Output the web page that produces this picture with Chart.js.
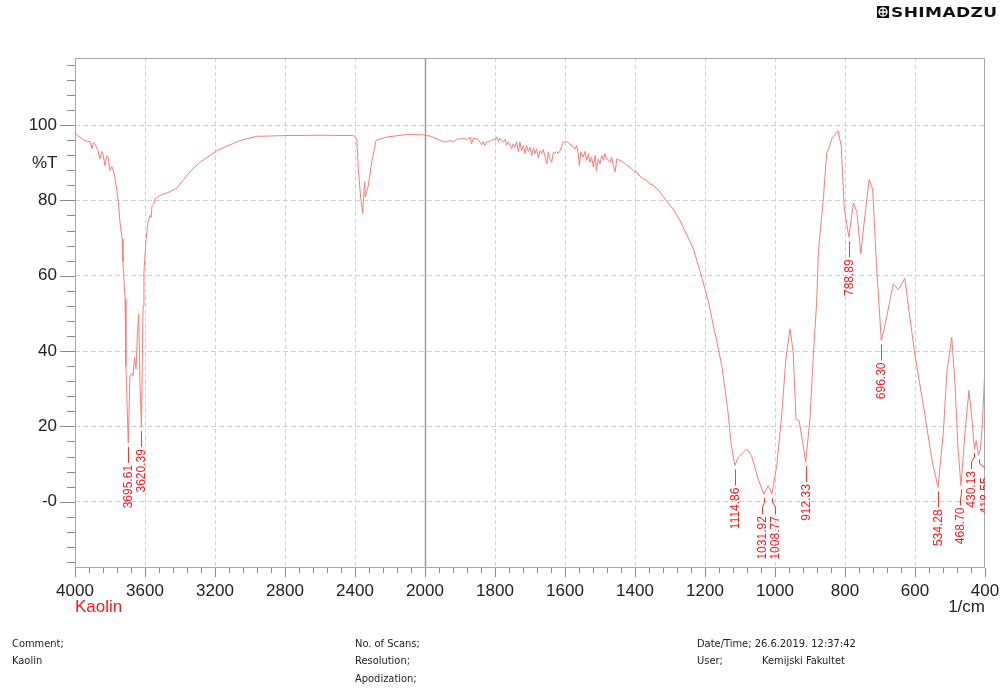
<!DOCTYPE html>
<html>
<head>
<meta charset="utf-8">
<title>Kaolin FTIR</title>
<script src="https://cdn.jsdelivr.net/npm/chart.js@4.4.0/dist/chart.umd.min.js"></script>
<style>
  body { margin: 0; background: #fff; }
  #wrap { position: relative; width: 1003px; height: 688px; overflow: hidden; }
  #spectrum { position: absolute; left: 0; top: 0; }
  .info { position: absolute; font: 11px "Liberation Sans Narrow", "DejaVu Sans Condensed", sans-serif; color: #222; white-space: nowrap; }
  #logo { position: absolute; left: 877px; top: 6px; height: 14px; }
  #logo svg { position: absolute; left: 0; top: 0; }
  #logo span { position: absolute; left: 14px; top: -2px; font: bold 14px "DejaVu Sans", sans-serif; color: #111; transform: scaleX(1.22); transform-origin: left top; letter-spacing: 0.3px; }
</style>
</head>
<body>
<div id="wrap">
  <canvas id="spectrum" width="1003" height="688"></canvas>
  <div id="logo">
    <svg width="12" height="12" viewBox="0 0 12 12"><rect width="12" height="12" fill="#111"/><circle cx="6" cy="6" r="4" fill="none" stroke="#fff" stroke-width="1.3"/><path d="M6 2v8M2 6h8" stroke="#fff" stroke-width="1.3"/></svg>
    <span>SHIMADZU</span>
  </div>
  <div class="info" style="left:12px;top:637px">Comment;</div>
  <div class="info" style="left:12px;top:654px">Kaolin</div>
  <div class="info" style="left:355px;top:637px">No. of Scans;</div>
  <div class="info" style="left:355px;top:654px">Resolution;</div>
  <div class="info" style="left:355px;top:672px">Apodization;</div>
  <div class="info" style="left:697px;top:637px">Date/Time; 26.6.2019. 12:37:42</div>
  <div class="info" style="left:697px;top:654px">User;</div>
  <div class="info" style="left:762px;top:654px">Kemijski Fakultet</div>
</div>
<script>
// spectrum: wavenumber (1/cm) and %T
const wavenumbers = [
  4000, 3985, 3971, 3950, 3930, 3914, 3903, 3895, 3886, 3870, 3857, 3848, 3840, 3829, 3820, 3811,
  3800, 3789, 3778, 3771, 3754, 3743, 3731, 3726, 3714, 3709, 3695.61, 3686, 3676, 3669, 3660, 3651,
  3643, 3636, 3629, 3620.39, 3611, 3606, 3594, 3583, 3571, 3565, 3560, 3550, 3543, 3530, 3514, 3480,
  3457, 3429, 3419, 3380, 3343, 3286, 3190, 3057, 2962, 2800, 2600, 2410, 2390, 2381, 2367, 2356,
  2349, 2345, 2341, 2324, 2305, 2280, 2219, 2105, 2010, 2000,
  1986, 1948, 1943, 1929, 1919, 1910, 1900, 1890, 1881, 1871,
  1867, 1862, 1852, 1843, 1838, 1833, 1829, 1824, 1814, 1805,
  1800, 1795, 1790, 1786, 1781, 1776, 1771, 1767, 1762, 1752,
  1748, 1743, 1738, 1733, 1729, 1724, 1719, 1714, 1710, 1705,
  1700, 1695, 1690, 1686, 1681, 1676, 1671, 1667, 1662, 1657,
  1652, 1648, 1643, 1638, 1633, 1629, 1624, 1619, 1614, 1605,
  1595, 1586, 1576, 1571, 1567, 1562, 1559, 1555, 1548, 1543,
  1538, 1533, 1529, 1524, 1519, 1514, 1510, 1505, 1500, 1495,
  1490, 1486, 1481, 1471, 1467, 1462, 1457, 1452, 1443, 1433,
  1424, 1414, 1405, 1395, 1386, 1376, 1367, 1357, 1348, 1338,
  1328, 1319, 1291, 1271, 1233, 1200, 1190, 1176, 1165, 1152,
  1143, 1133, 1125, 1114.86, 1105, 1081, 1067, 1048, 1031.92, 1019,
  1008.77, 995, 981, 969, 957, 948, 940, 931, 921, 912.33,
  900, 891, 881, 876, 862, 852, 845, 838, 820, 811,
  802, 788.89, 776, 766, 755, 743, 731, 721, 710, 696.30,
  686, 671, 662, 648, 629, 619, 600, 576, 552, 534.28,
  519, 509, 495, 486, 477, 468.70, 457, 446, 438, 430.13,
  425, 418.55, 413, 408, 404, 400
];
const transmittance = [
  97.9, 97.2, 96.8, 96.0, 95.6, 95.6, 93.7, 95.4, 95.0, 93.5, 91.0, 93.0, 92.3, 89.2, 91.8, 91.5,
  87.9, 88.9, 87.5, 85.7, 80.4, 74.3, 69.8, 63.7, 53.8, 36.0, 15.6, 33.4, 34.0, 33.4, 38.4, 35.2,
  45.0, 49.8, 31.8, 19.8, 52.0, 61.0, 69.7, 74.2, 76.0, 75.5, 78.6, 79.0, 80.4, 80.8, 81.3, 81.9,
  82.3, 83.0, 83.2, 85.5, 87.6, 90.1, 93.2, 95.9, 97.0, 97.2, 97.3, 97.2, 96.3, 88.4, 80.4, 76.6,
  82.3, 84.9, 80.9, 83.9, 90.0, 95.9, 96.8, 97.5, 97.4, 97.2,
  97.1, 95.6, 95.5, 95.9, 95.5, 96.2, 96.3, 96.5, 96.2, 96.8,
  95.0, 96.5, 96.3, 95.5, 94.7, 95.6, 94.6, 95.5, 95.6, 96.3,
  95.9, 96.8, 95.6, 96.5, 95.9, 95.5, 96.2, 94.6, 95.6, 93.7,
  95.0, 94.1, 95.6, 92.8, 95.5, 93.2, 94.6, 92.4, 94.6, 93.0,
  94.1, 91.9, 93.9, 92.4, 93.7, 91.2, 93.2, 92.4, 93.5, 91.5,
  89.7, 92.8, 91.0, 90.1, 92.8, 92.4, 93.0, 92.4, 93.2, 95.5,
  95.6, 95.0, 94.1, 93.7, 94.6, 92.4, 89.3, 92.8, 91.5, 93.0,
  90.6, 92.4, 90.1, 91.5, 88.8, 91.9, 87.9, 91.0, 89.7, 91.9,
  90.6, 92.4, 91.0, 90.1, 91.5, 89.3, 87.5, 91.0, 90.6, 90.1,
  89.3, 88.8, 87.9, 87.5, 86.4, 85.7, 85.3, 84.4, 84.0, 83.1,
  82.2, 80.9, 77.7, 74.6, 67.1, 56.5, 53.0, 46.7, 42.0, 36.1,
  30.0, 22.8, 15.0, 9.6, 11.8, 14.0, 12.2, 6.0, 2.0, 4.3,
  2.0, 9.6, 22.8, 37.9, 45.9, 39.8, 22.0, 21.5, 15.8, 10.5,
  22.0, 37.9, 53.0, 66.3, 80.4, 92.8, 94.1, 96.3, 98.5, 94.6,
  77.7, 70.2, 79.3, 76.9, 65.8, 76.0, 85.5, 83.0, 62.7, 42.8,
  46.7, 53.8, 57.8, 56.3, 59.3, 52.0, 38.8, 25.5, 11.3, 3.8,
  18.4, 34.4, 43.7, 31.7, 14.0, 4.3, 18.5, 29.5, 22.8, 14.0,
  16.2, 12.3, 14.0, 20.0, 28.0, 36.0
];

// picked peaks
const peakWavenumbers = [3695.61, 3620.39, 1114.86, 1031.92, 1008.77, 912.33, 788.89, 696.30, 534.28, 468.70, 430.13, 418.55];
const peakTransmittance = [15.6, 19.8, 9.6, 2.0, 2.0, 10.5, 70.2, 42.8, 3.8, 4.3, 14.0, 12.3];
const peakLabels = ['3695.61', '3620.39', '1114.86', '1031.92', '1008.77', '912.33', '788.89', '696.30', '534.28', '468.70', '430.13', '418.55'];
const labelShift = [0, 0, 0, -2, 3, 0, 0, 0, 0, -1, -3, 6];

const xTickLabels = [4000, 3600, 3200, 2800, 2400, 2000, 1800, 1600, 1400, 1200, 1000, 800, 600, 400];
const yTickLabels = [0, 20, 40, 60, 80, 100];

// the axis is compressed by half above 2000 1/cm
function toU(wn) { return wn >= 2000 ? (4000 - wn) / 2 : 1000 + (2000 - wn); }
function fromU(u) { return u <= 1000 ? 4000 - 2 * u : 2000 - (u - 1000); }

const points = wavenumbers.map((wn, i) => ({ x: toU(wn), y: transmittance[i] }));

const xTicks = [];
for (let u = 0; u <= 2600; u += 40) xTicks.push(u);
const yTicks = [];
for (let v = -16; v <= 116; v += 4) yTicks.push(v);

const isMajorX = v => xTickLabels.includes(fromU(v));
const isMajorY = v => yTickLabels.includes(v);
const axisFont = { family: '"Liberation Sans", Arial, sans-serif', size: 17 };

const decor = {
  id: 'decor',
  beforeDatasetsDraw(chart) {
    const { ctx, chartArea: a, scales: { x } } = chart;
    const xd = Math.round(x.getPixelForValue(toU(2000))) + 0.5;
    ctx.save();
    ctx.strokeStyle = '#9a9a9a';
    ctx.lineWidth = 1.5;
    ctx.beginPath();
    ctx.moveTo(xd, a.top);
    ctx.lineTo(xd, a.bottom);
    ctx.stroke();
    ctx.restore();
  },
  afterDraw(chart) {
    const { ctx, chartArea: a, scales: { x, y } } = chart;
    ctx.save();
    // frame
    ctx.strokeStyle = '#a8a8a8';
    ctx.lineWidth = 1;
    ctx.strokeRect(a.left + 0.5, a.top + 0.5, a.width - 1, a.height - 1);
    // tick marks
    ctx.strokeStyle = '#8a8a8a';
    ctx.beginPath();
    yTicks.forEach(v => {
      const py = Math.round(y.getPixelForValue(v)) + 0.5;
      ctx.moveTo(a.left, py);
      ctx.lineTo(a.left - (isMajorY(v) ? 15 : 8), py);
    });
    xTicks.forEach(u => {
      const px = Math.round(x.getPixelForValue(u)) + 0.5;
      ctx.moveTo(px, a.bottom);
      ctx.lineTo(px, a.bottom + (isMajorX(u) ? 9 : 5));
    });
    ctx.stroke();

    // axis texts
    ctx.font = '17px "Liberation Sans", Arial, sans-serif';
    ctx.textBaseline = 'middle';
    ctx.fillStyle = '#222';
    ctx.textAlign = 'left';
    ctx.fillText('%T', 32, 163);
    ctx.textAlign = 'right';
    ctx.fillText('1/cm', a.right, 607);
    ctx.fillStyle = '#ff1a1a';
    ctx.textAlign = 'left';
    ctx.fillText('Kaolin', a.left, 607);

    // peak labels
    ctx.beginPath();
    ctx.rect(a.left, a.top, a.width, a.height);
    ctx.clip();
    ctx.strokeStyle = '#ff3030';
    ctx.fillStyle = '#ff1a1a';
    ctx.font = '12px "Liberation Sans", Arial, sans-serif';
    peakWavenumbers.forEach((wn, i) => {
      const px = Math.round(x.getPixelForValue(toU(wn))) + 0.5;
      const py = y.getPixelForValue(peakTransmittance[i]);
      const lx = px + labelShift[i];
      const top = py + 22;
      ctx.beginPath();
      ctx.moveTo(px, py + 4);
      ctx.lineTo(px, py + 8);
      ctx.lineTo(lx, py + 13);
      ctx.lineTo(lx, top - 2);
      ctx.stroke();
      ctx.save();
      ctx.translate(lx + 4, top);
      ctx.rotate(-Math.PI / 2);
      ctx.textAlign = 'right';
      ctx.textBaseline = 'middle';
      ctx.fillText(peakLabels[i], 0, -4);
      ctx.restore();
    });
    ctx.restore();
  }
};

new Chart(document.getElementById('spectrum'), {
  type: 'line',
  data: {
    datasets: [{
      label: 'Kaolin',
      data: points,
      borderColor: '#ff7a7a',
      borderWidth: 1,
      pointRadius: 0,
      tension: 0,
      fill: false
    }]
  },
  options: {
    responsive: false,
    animation: false,
    layout: { padding: { top: 58, right: 18, left: 0, bottom: 0 } },
    plugins: { legend: { display: false }, tooltip: { enabled: false } },
    scales: {
      x: {
        type: 'linear',
        min: 0,
        max: 2600,
        afterBuildTicks: s => { s.ticks = xTicks.map(v => ({ value: v })); },
        afterFit: s => { s.height = 120; s.paddingLeft = 0; s.paddingRight = 0; },
        grid: {
          drawTicks: false,
          color: c => (c.tick && isMajorX(c.tick.value) && c.tick.value > 0 && c.tick.value < 2600 && c.tick.value !== 1000) ? '#d2d2d2' : 'rgba(0,0,0,0)'
        },
        border: { display: false, dash: [4, 3] },
        ticks: {
          autoSkip: false,
          maxRotation: 0,
          padding: 13,
          color: '#222',
          font: axisFont,
          callback: v => isMajorX(v) ? String(fromU(v)) : ''
        }
      },
      y: {
        min: -17.6,
        max: 117.8,
        afterBuildTicks: s => { s.ticks = yTicks.map(v => ({ value: v })); },
        afterFit: s => { s.width = 75; s.paddingTop = 0; s.paddingBottom = 0; },
        grid: {
          drawTicks: false,
          color: c => (c.tick && isMajorY(c.tick.value)) ? '#d2d2d2' : 'rgba(0,0,0,0)'
        },
        border: { display: false, dash: [5, 3] },
        ticks: {
          autoSkip: false,
          padding: 18,
          color: '#222',
          font: axisFont,
          callback: v => isMajorY(v) ? (v === 0 ? '-0' : String(v)) : ''
        }
      }
    }
  },
  plugins: [decor]
});
</script>
</body>
</html>
